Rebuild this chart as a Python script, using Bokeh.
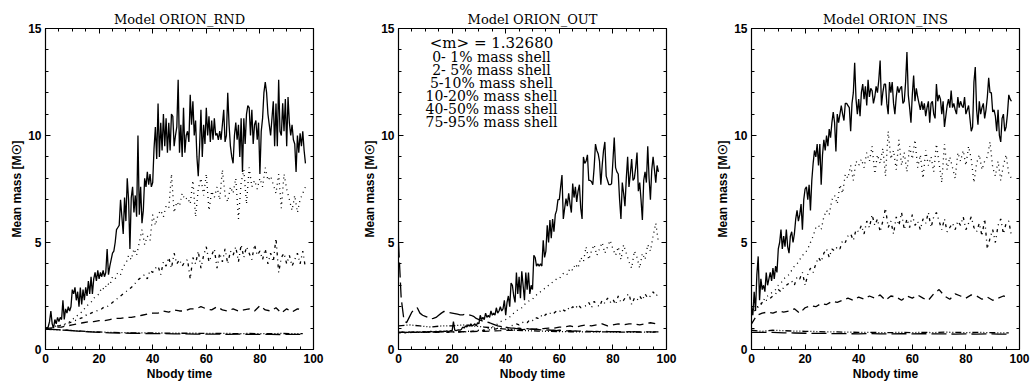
import numpy as np
from bokeh.plotting import figure
from bokeh.layouts import row
from bokeh.models import Range1d, LinearAxis, SingleIntervalTicker, Label, CustomJSTickFormatter
from bokeh.embed import file_html
from bokeh.resources import INLINE

# ---------------- data ----------------
models = ["ORION_RND", "ORION_OUT", "ORION_INS"]
mean_mass_text = "<m> = 1.32680"
shell_labels = ["0- 1% mass shell", "2- 5% mass shell", "5-10% mass shell",
                "10-20% mass shell", "40-50% mass shell", "75-95% mass shell"]
x_label = "Nbody time"
y_label = "Mean mass [M\u2609]"

# time step of each stored series (Nbody time units)
step_solid = 0.5
step_dot = 1.0
step_dashdot = 1.0
step_dash = 2.0
step_low = 4.0
step_out_far = 1.0

# ---- Model ORION_RND ----
rnd_0_1 = [1.0,1.0,1.05,1.3,1.8,1.2,1.0,1.4,1.2,1.5,
           1.3,1.5,1.4,2.3,1.4,1.9,1.7,2.0,1.8,2.0,
           2.8,2.6,2.9,2.3,2.7,2.0,2.9,2.1,2.8,2.3,
           2.9,2.5,3.2,2.6,3.4,2.6,3.3,3.6,3.2,3.7,
           3.3,3.6,3.4,3.7,3.4,3.6,4.7,3.5,3.9,4.2,
           4.5,4.6,5.0,5.6,5.7,5.8,7.0,6.2,5.4,7.1,
           6.0,8.0,7.0,4.7,7.1,7.6,6.4,7.2,6.2,10.0,
           6.3,7.6,5.9,6.5,8.0,7.6,8.3,7.7,8.2,7.6,
           7.8,9.4,10.4,8.9,11.5,9.0,10.6,9.3,11.0,9.5,
           10.8,9.2,10.6,9.3,11.0,10.9,9.5,10.0,10.4,12.6,
           9.2,10.5,9.0,11.3,9.2,10.0,10.2,9.7,11.9,10.5,
           11.6,10.0,10.7,9.0,8.1,9.5,11.2,9.0,10.5,9.6,
           11.3,10.0,10.9,9.7,10.7,9.8,10.8,10.0,10.1,9.8,
           10.2,9.8,10.5,11.2,9.7,10.0,12.0,10.5,9.5,9.0,
           8.7,10.0,10.6,9.8,10.5,9.0,10.8,8.3,10.8,9.6,
           11.0,11.4,11.3,10.0,11.2,9.6,10.5,10.7,9.8,10.6,
           8.2,10.2,10.8,12.0,12.5,12.0,11.0,10.5,10.0,10.8,
           11.6,9.5,11.5,9.5,12.6,10.2,10.0,11.5,10.2,11.7,
           9.5,11.8,10.6,10.0,10.5,9.8,9.6,8.3,10.0,9.2,
           10.1,9.5,10.2,9.3,8.7]
rnd_2_5 = [1.0,1.0,1.0,1.05,1.1,1.1,1.15,1.2,1.2,1.3,
           1.4,1.5,1.6,1.7,1.8,2.0,2.1,2.2,2.4,2.5,
           2.6,2.9,2.8,3.1,3.0,3.4,3.3,3.6,3.5,3.9,
           4.0,4.4,4.2,4.7,4.4,5.0,5.6,4.9,5.3,5.1,
           6.3,5.8,6.3,6.5,6.2,6.7,6.6,8.2,6.4,6.9,
           6.7,7.3,7.0,7.1,6.8,7.9,6.2,7.5,8.0,7.2,
           8.2,6.5,7.4,7.1,7.6,7.0,8.4,7.2,6.9,7.6,
           7.3,8.0,6.1,7.8,8.4,6.8,8.5,7.6,7.9,7.5,
           8.0,7.6,8.5,7.9,8.1,7.7,7.3,8.2,6.6,8.2,
           7.5,7.0,6.5,7.2,6.4,7.0,7.3,7.6]
rnd_5_10 = [1.0,1.0,1.05,1.05,1.1,1.1,1.15,1.15,1.2,1.25,
            1.3,1.35,1.4,1.45,1.5,1.6,1.6,1.7,1.75,1.8,
            1.85,1.9,2.0,2.0,2.1,2.2,2.3,2.4,2.5,2.6,
            2.7,2.8,2.9,3.0,3.2,3.3,3.4,3.5,3.3,3.7,
            3.6,3.8,3.9,3.5,4.1,3.9,4.3,3.8,4.5,4.0,
            4.2,3.9,4.1,4.2,3.3,4.3,4.0,4.6,3.8,4.4,
            4.8,4.1,4.4,4.7,3.8,4.5,4.1,4.7,4.0,4.6,
            4.4,4.8,4.1,4.9,4.3,4.8,4.5,4.2,4.9,4.4,
            4.6,4.2,4.7,4.0,4.5,4.1,5.2,3.6,4.3,4.5,
            4.0,4.4,3.9,4.2,4.5,4.0,4.6,3.8]
rnd_10_20 = [1.0,1.0,1.05,1.05,1.1,1.15,1.2,1.25,1.3,1.3,
             1.35,1.35,1.4,1.45,1.45,1.5,1.5,1.55,1.6,1.65,
             1.7,1.7,1.8,1.75,1.85,1.8,1.8,1.9,1.9,2.0,
             1.9,1.85,2.0,1.85,1.8,1.9,1.8,1.85,1.9,1.8,
             2.05,1.85,1.8,1.95,1.7,1.9,1.75,1.9,1.85]
rnd_40_50 = [0.95,0.92,0.9,0.87,0.84,0.82,0.8,0.79,0.78,0.78,0.77,0.77,0.76,
             0.76,0.76,0.75,0.75,0.75,0.74,0.75,0.74,0.74,0.75,0.74,0.74]
rnd_75_95 = [0.95,0.93,0.9,0.86,0.83,0.8,0.78,0.77,0.76,0.75,0.74,0.74,0.73,
             0.73,0.72,0.72,0.72,0.71,0.72,0.71,0.71,0.71,0.7,0.71,0.7]

# ---- Model ORION_OUT ----
out_0_1 = [0.8,0.78,0.8,0.82,0.8,0.78,0.8,0.8,0.82,0.8,
           0.8,0.82,0.8,0.8,0.83,0.8,0.82,0.8,0.82,0.84,
           0.82,0.8,0.84,0.82,0.85,0.83,0.82,0.84,0.85,0.83,
           0.84,0.86,0.85,0.84,0.86,0.85,0.87,0.85,0.86,0.88,
           0.87,1.3,0.9,0.88,0.9,0.92,0.9,0.95,1.05,1.0,
           1.1,1.05,1.15,1.1,1.2,1.1,1.15,1.2,1.1,1.25,
           1.2,1.6,1.4,1.5,1.4,1.7,1.5,1.6,1.5,1.8,
           1.6,1.7,1.6,1.95,1.7,1.8,2.0,1.8,1.9,2.3,
           1.6,2.2,2.5,2.0,3.1,3.0,2.5,2.2,3.6,2.6,
           3.4,2.4,3.65,3.0,2.3,3.6,2.8,3.6,2.6,3.0,
           2.8,4.4,4.3,3.9,4.0,3.9,4.0,3.9,5.1,4.3,
           4.6,5.8,5.0,6.05,5.2,6.1,5.5,6.3,6.5,7.0,
           7.0,7.6,8.15,6.1,6.6,7.05,6.7,7.3,6.8,6.4,
           7.75,7.1,7.6,6.9,7.4,7.7,6.6,6.1,9.0,8.7,
           8.8,9.1,7.9,7.9,7.85,7.7,8.5,9.6,9.3,9.15,
           8.8,7.7,8.6,9.3,9.7,8.1,7.9,7.7,7.7,7.75,
           8.8,9.9,8.5,8.3,8.2,7.0,6.1,7.8,7.3,6.7,
           8.0,9.0,7.6,8.2,8.9,7.9,8.0,8.5,9.2,7.4,
           7.8,7.0,6.05,7.9,8.3,7.8,9.5,8.0,7.0,8.4,
           9.0,8.4,7.8,8.6,8.3]
out_2_5 = [0.8,0.8,0.8,0.78,0.8,0.8,0.8,0.82,0.8,0.8,
           0.8,0.82,0.8,0.8,0.82,0.8,0.82,0.82,0.8,0.82,
           0.82,0.83,0.82,0.84,0.83,0.85,0.85,0.86,0.85,0.88,
           0.9,0.9,0.92,0.95,1.0,1.05,1.1,1.2,1.3,1.35,
           1.4,1.5,1.55,1.7,1.8,1.9,1.95,2.1,2.2,2.3,
           2.35,2.5,2.6,2.7,2.8,2.9,3.0,3.1,3.2,3.3,
           3.3,3.5,3.6,3.5,3.8,3.7,4.0,3.8,4.3,4.1,
           4.8,4.2,4.6,4.9,4.4,4.7,5.0,4.5,4.8,5.1,
           4.7,4.4,4.8,4.2,4.9,4.5,4.1,3.8,4.6,4.3,
           3.8,4.5,4.2,4.9,4.6,5.3,5.9,5.0]
out_5_10 = [0.8,0.8,0.8,0.8,0.79,0.8,0.8,0.8,0.81,0.8,
            0.8,0.8,0.81,0.8,0.8,0.8,0.81,0.8,0.8,0.81,
            0.8,0.82,0.8,0.82,0.84,0.83,0.85,0.84,0.86,0.85,
            0.87,0.88,0.9,0.9,0.92,0.93,0.95,0.98,1.0,1.0,
            1.05,1.0,1.1,1.15,1.2,1.15,1.25,1.3,1.25,1.4,
            1.35,1.5,1.45,1.6,1.5,1.65,1.6,1.75,1.7,1.8,
            1.75,1.9,1.8,1.95,1.85,2.0,1.9,2.1,1.95,2.0,
            2.05,2.2,1.95,2.25,2.1,2.0,2.3,2.15,2.4,2.2,
            2.35,2.1,2.5,2.2,2.3,2.5,2.6,2.1,2.4,2.3,
            2.5,2.3,2.6,2.4,2.5,2.7,2.5,2.6]
out_10_20 = [0.8,0.8,0.82,0.8,0.8,0.82,0.8,0.8,0.82,0.82,
             0.82,0.83,0.83,0.84,0.84,0.85,0.85,0.86,0.87,0.88,
             0.9,0.9,0.92,0.93,0.95,0.95,0.97,0.98,1.0,1.0,
             1.05,1.05,1.1,1.05,1.1,1.15,1.1,1.15,1.2,1.1,
             1.15,1.2,1.15,1.2,1.2,1.15,1.2,1.25,1.2]
out_40_50 = [1.1,1.15,1.1,1.05,1.1,1.1,1.15,1.1,1.05,1.0,0.95,0.9,0.88,
             0.86,0.85,0.84,0.83,0.83,0.82,0.82,0.82,0.81,0.82,0.81,0.82]
out_75_95 = [5.0,2.4,1.4,1.25,1.5,1.75,1.9,1.95,1.7,1.6,
             1.55,1.5,1.43,1.45,1.5,1.6,1.7,1.78,1.75,1.72,
             1.7,1.68,1.65,1.62,1.62,1.65,1.63,1.6,1.55,1.45,
             1.4,1.35,1.3,1.28,1.25,1.2,1.15,1.1,1.08,1.05,
             1.05,1.02,1.0,1.0,0.98,1.0,0.97,0.96,0.98,0.95,
             0.95,0.93,0.94,0.92,0.93,0.9,0.92,0.9,0.9,0.88,
             0.9,0.88,0.88,0.87,0.88,0.86,0.87,0.86,0.86,0.85,
             0.86,0.85,0.85,0.84,0.85,0.84,0.85,0.84,0.84,0.83,
             0.84,0.83,0.84,0.83,0.83,0.82,0.83,0.82,0.83,0.82,
             0.82,0.83,0.82,0.82,0.82,0.81,0.82,0.82]

# ---- Model ORION_INS ----
ins_0_1 = [2.0,1.6,2.7,1.8,3.5,4.35,2.3,3.3,2.8,3.0,
           2.7,3.6,3.0,3.3,3.6,3.2,3.8,3.3,3.9,3.6,
           4.7,5.0,5.6,4.7,5.3,4.8,5.6,4.8,4.5,5.3,
           5.5,5.0,5.4,6.1,6.5,6.0,6.3,6.8,5.6,7.0,
           7.5,7.6,7.0,7.7,6.5,7.9,8.7,9.3,9.0,9.6,
           8.6,9.6,7.7,9.1,9.8,9.3,10.0,9.5,10.3,9.9,
           10.6,11.1,10.6,9.25,11.0,10.6,11.0,11.4,11.0,10.7,
           11.5,11.5,11.4,11.3,10.2,11.5,12.0,13.4,11.7,11.0,
           11.7,10.9,12.0,12.4,11.7,12.3,11.4,12.6,11.8,12.2,
           12.1,11.5,11.8,12.3,12.0,12.6,13.5,11.4,12.0,12.4,
           12.4,11.5,11.0,12.5,12.0,12.5,11.5,11.0,11.8,12.3,
           12.0,12.2,12.3,11.5,11.6,12.5,13.9,11.9,11.3,10.6,
           11.9,12.8,11.6,12.2,11.8,11.5,11.2,11.6,11.2,11.5,
           10.9,11.3,11.6,10.6,11.5,11.6,11.0,10.8,12.4,11.6,
           11.9,11.7,11.0,11.6,10.4,10.9,11.4,11.7,11.3,12.1,
           11.3,11.5,11.2,11.0,11.8,11.3,11.6,11.4,11.3,11.8,
           11.0,11.2,11.4,10.8,10.2,10.4,12.5,13.2,11.2,10.5,
           11.6,11.0,11.3,11.5,10.8,11.2,11.8,12.7,12.0,12.0,
           11.1,11.2,10.9,10.2,11.2,10.0,9.7,10.8,11.0,10.2,
           10.4,11.0,11.9,11.7,11.6]
ins_2_5 = [1.6,1.8,1.9,2.1,2.2,2.4,2.5,2.6,2.7,2.8,
           3.0,3.1,3.3,3.4,3.5,3.7,3.9,4.0,4.2,4.4,
           4.5,4.7,5.0,5.3,5.7,5.8,5.6,6.2,6.5,6.3,
           7.0,7.2,6.8,7.7,7.3,8.2,8.0,8.6,7.9,8.8,
           8.6,8.9,8.5,9.2,8.8,9.5,8.2,9.1,8.7,9.4,
           8.1,10.2,8.9,9.3,8.4,9.8,8.6,9.2,8.3,9.5,
           8.9,9.8,8.5,9.1,8.0,9.3,8.6,9.0,8.3,9.6,
           8.7,7.8,9.6,8.4,9.0,8.5,8.0,9.2,8.8,9.3,
           8.6,9.5,8.9,7.8,8.7,9.1,8.4,8.8,9.0,9.7,
           8.5,8.1,8.8,7.9,8.6,9.1,8.2,8.0]
ins_5_10 = [1.8,1.9,2.0,2.0,2.2,2.3,2.3,2.4,2.5,2.6,
            2.8,2.7,2.9,3.0,3.1,3.2,3.0,3.4,3.3,3.6,
            3.0,3.5,3.8,3.6,4.0,4.3,4.1,4.5,4.7,4.3,
            4.7,4.6,4.8,4.7,5.1,5.0,5.3,5.4,5.1,5.6,
            5.5,5.8,5.4,6.0,5.7,6.3,5.8,6.1,5.5,6.0,
            6.6,5.7,6.0,5.4,6.2,5.8,6.4,5.6,6.1,5.7,
            6.3,5.8,6.0,5.6,6.1,5.9,6.4,5.7,6.2,6.4,
            6.0,5.6,6.1,5.5,5.7,5.9,5.6,6.0,5.8,6.2,
            5.6,5.9,6.2,5.7,5.5,5.9,5.3,6.1,4.7,5.2,
            5.6,5.0,5.8,6.1,5.4,5.9,6.0,5.3]
ins_10_20 = [1.2,1.6,1.7,1.75,1.7,1.8,1.75,1.8,1.9,1.7,
             1.95,2.05,2.0,2.15,2.1,2.25,2.2,2.3,2.4,2.3,
             2.45,2.35,2.5,2.4,2.55,2.3,2.5,2.45,2.3,2.5,
             2.4,2.55,2.4,2.3,2.6,2.8,2.5,2.35,2.6,2.5,
             2.4,2.55,2.5,2.35,2.45,2.3,2.4,2.5,2.45]
ins_40_50 = [0.9,0.85,0.9,0.88,0.86,0.85,0.84,0.82,0.82,0.81,0.8,0.8,0.79,
             0.79,0.8,0.79,0.8,0.79,0.81,0.8,0.79,0.8,0.79,0.78,0.78]
ins_75_95 = [0.8,0.8,0.8,0.78,0.77,0.76,0.75,0.75,0.74,0.74,0.73,0.74,0.73,
             0.73,0.74,0.73,0.74,0.73,0.73,0.72,0.73,0.72,0.73,0.72,0.72]

# line styles for the six shells (IDL-like)
dashes = ["solid", "1 4", "3 4 1 4", "7 5", "6 2 1 2 1 2 1 2", "15 5"]

panels = [
    (models[0], [(rnd_0_1, step_solid), (rnd_2_5, step_dot), (rnd_5_10, step_dashdot),
                 (rnd_10_20, step_dash), (rnd_40_50, step_low), (rnd_75_95, step_low)]),
    (models[1], [(out_0_1, step_solid), (out_2_5, step_dot), (out_5_10, step_dashdot),
                 (out_10_20, step_dash), (out_40_50, step_low), (out_75_95, step_out_far)]),
    (models[2], [(ins_0_1, step_solid), (ins_2_5, step_dot), (ins_5_10, step_dashdot),
                 (ins_10_20, step_dash), (ins_40_50, step_low), (ins_75_95, step_low)]),
]

TICK_FONT = "Liberation Sans"
SERIF = "DejaVu Serif"


def style_axis(ax, show_labels):
    ax.axis_line_color = "black"
    ax.axis_line_width = 1.2
    ax.major_tick_in = 5
    ax.major_tick_out = 0
    ax.minor_tick_in = 3
    ax.minor_tick_out = 0
    ax.major_tick_line_color = "black"
    ax.minor_tick_line_color = "black"
    if show_labels:
        ax.major_label_text_font = TICK_FONT
        ax.major_label_text_font_style = "bold"
        ax.major_label_text_font_size = "12px"
        ax.major_label_text_color = "black"
        ax.major_label_standoff = 4
        ax.axis_label_text_font = TICK_FONT
        ax.axis_label_text_font_style = "bold"
        ax.axis_label_text_font_size = "12px"
        ax.axis_label_text_color = "black"
        ax.axis_label_standoff = 1
    else:
        ax.formatter = CustomJSTickFormatter(code="return ''")
        ax.major_label_text_font_size = "0px"
        ax.major_label_standoff = 0


def make_panel(model, series, left, right, legend):
    p = figure(width=344, height=383, x_range=Range1d(0, 100), y_range=Range1d(0, 15),
               output_backend="svg", toolbar_location=None,
               min_border_left=left, min_border_right=right,
               min_border_top=28, min_border_bottom=33)
    p.background_fill_color = "white"
    p.border_fill_color = "white"
    p.outline_line_color = None
    p.xgrid.visible = False
    p.ygrid.visible = False

    p.title.text = "Model " + model
    p.title.align = "center"
    p.title.text_font = SERIF
    p.title.text_font_size = "13px"
    p.title.text_font_style = "normal"
    p.title.text_color = "black"
    p.title.standoff = 3

    xt = SingleIntervalTicker(interval=20, num_minor_ticks=4)
    yt = SingleIntervalTicker(interval=5, num_minor_ticks=5)
    p.xaxis.ticker = xt
    p.yaxis.ticker = yt
    p.xaxis.axis_label = x_label
    p.yaxis.axis_label = y_label
    style_axis(p.xaxis[0], True)
    style_axis(p.yaxis[0], True)

    top = LinearAxis(ticker=SingleIntervalTicker(interval=20, num_minor_ticks=4))
    rgt = LinearAxis(ticker=SingleIntervalTicker(interval=5, num_minor_ticks=5))
    style_axis(top, False)
    style_axis(rgt, False)
    p.add_layout(top, "above")
    p.add_layout(rgt, "right")

    for (vals, step), dash in zip(series, dashes):
        t = np.arange(len(vals)) * step
        p.line(t, vals, line_color="black", line_width=1.3, line_dash=dash)

    if legend:
        p.add_layout(Label(x=34.7, y=14.3, text=mean_mass_text, text_align="center",
                           text_baseline="middle", text_font=SERIF,
                           text_font_size="15px", text_color="black"))
        for i, s in enumerate(shell_labels):
            p.add_layout(Label(x=34.7, y=13.65 - 0.6 * i, text=s, text_align="center",
                               text_baseline="middle", text_font=SERIF,
                               text_font_size="14px", text_color="black"))
    return p


borders = [(45, 31), (54, 22), (63, 13)]
figs = []
for i, ((model, series), (l, r)) in enumerate(zip(panels, borders)):
    figs.append(make_panel(model, series, l, r, legend=(i == 1)))

layout = row(*figs, spacing=0)
open("out.html", "w").write(file_html(layout, INLINE))
